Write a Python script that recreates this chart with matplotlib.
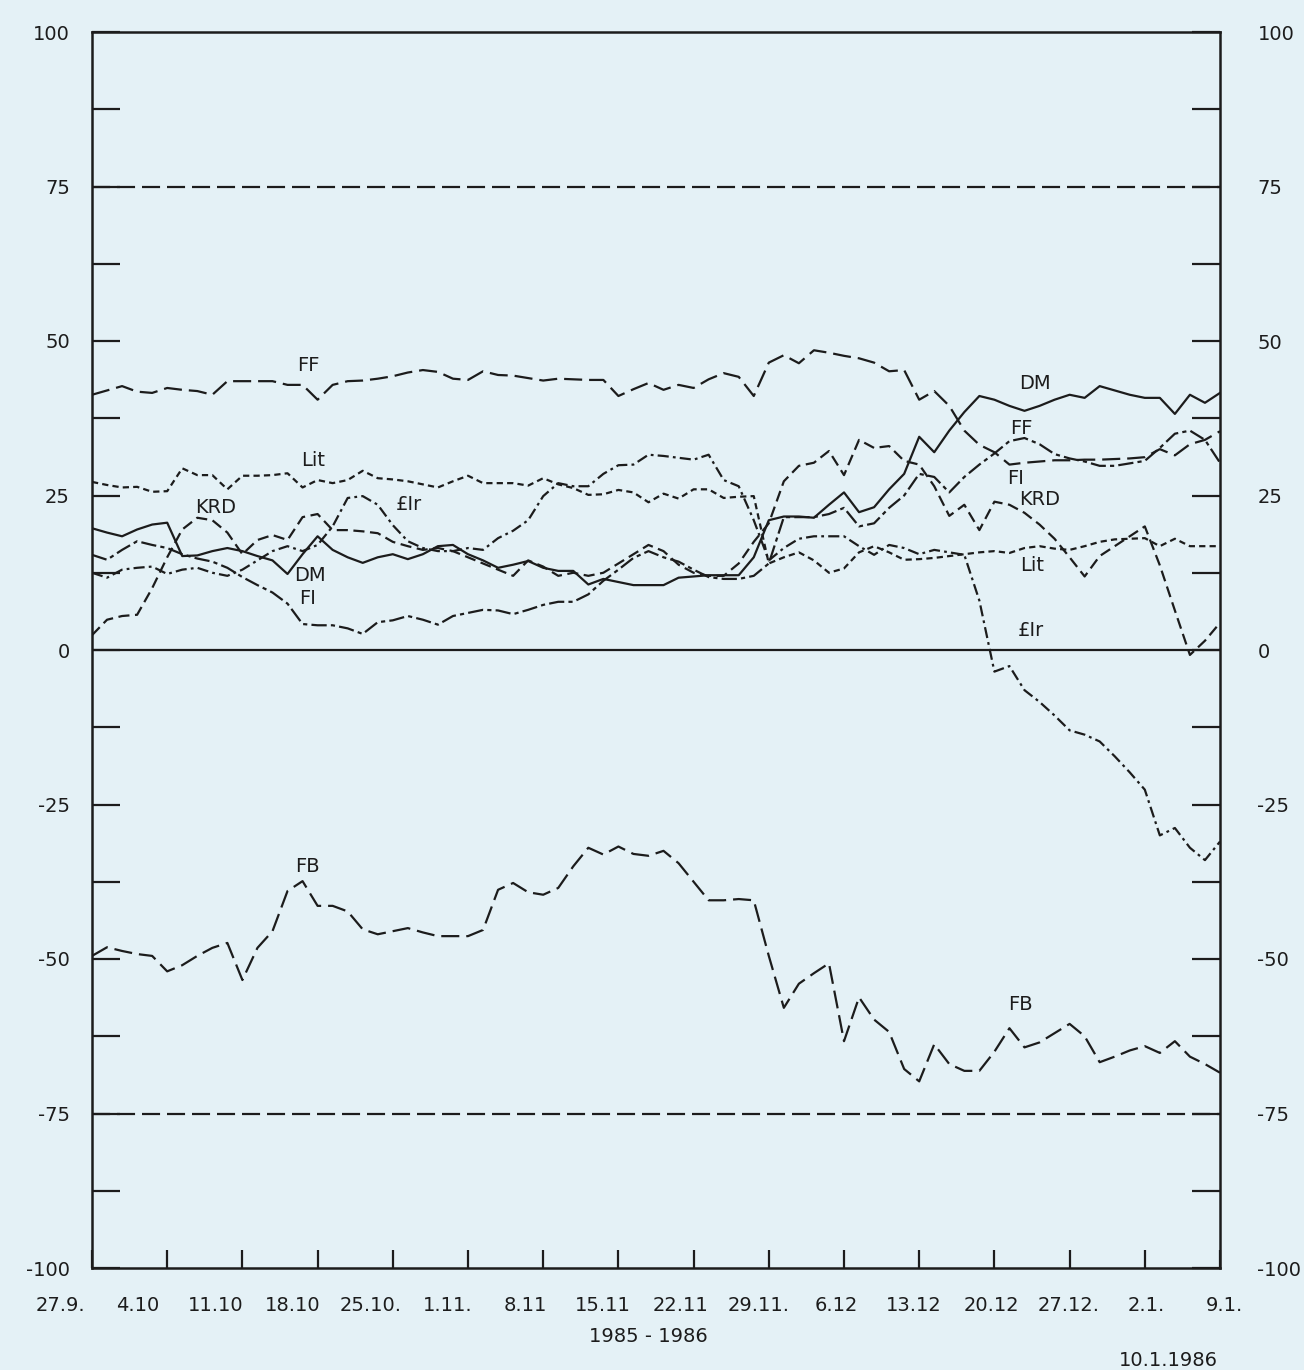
import numpy as np
import matplotlib
matplotlib.use('Agg')
import matplotlib.pyplot as plt

plt.rcParams['font.family'] = ['DejaVu Sans']
plt.rcParams['lines.scale_dashes'] = False

# business days 27.9.1985 .. 10.1.1986
days = np.arange(76)
week_ticks = np.arange(0, 76, 5)
date_labels = ['27.9.', '4.10', '11.10', '18.10', '25.10.', '1.11.', '8.11', '15.11',
               '22.11', '29.11.', '6.12', '13.12', '20.12', '27.12.', '2.1.', '9.1.']
y_ticks = np.arange(-100, 100.1, 12.5)

dm = [19.7, 19.0, 18.4, 19.5, 20.3, 20.6, 15.2, 15.3, 16.0, 16.5,
      16.0, 15.2, 14.5, 12.3, 15.5, 18.4, 16.2, 15.0, 14.1, 15.0,
      15.5, 14.7, 15.5, 16.8, 17.0, 15.5, 14.5, 13.3, 13.8, 14.4,
      13.3, 12.8, 12.8, 10.6, 11.5, 11.0, 10.5, 10.5, 10.5, 11.7,
      11.9, 12.1, 12.1, 12.1, 15.0, 21.0, 21.6, 21.6, 21.4, 23.5,
      25.5, 22.3, 23.1, 26.0, 28.5, 34.5, 32.0, 35.5, 38.5, 41.1,
      40.5, 39.5, 38.7, 39.5, 40.5, 41.3, 40.8, 42.7, 42.0, 41.3,
      40.8, 40.8, 38.2, 41.3, 40.0, 41.6]
ff = [41.3, 42.0, 42.7, 41.8, 41.6, 42.4, 42.1, 41.9, 41.3, 43.5,
      43.5, 43.5, 43.5, 42.9, 42.9, 40.5, 42.9, 43.5, 43.6, 43.9,
      44.3, 44.9, 45.3, 45.0, 43.9, 43.7, 45.1, 44.5, 44.4, 44.0,
      43.6, 43.9, 43.8, 43.7, 43.7, 41.1, 42.2, 43.2, 42.1, 42.9,
      42.4, 43.8, 44.8, 44.2, 41.1, 46.5, 47.7, 46.4, 48.5, 48.1,
      47.6, 47.2, 46.5, 45.1, 45.3, 40.5, 41.9, 39.5, 35.5, 33.2,
      32.0, 30.0, 30.3, 30.5, 30.7, 30.7, 30.8, 30.8, 30.9, 31.0,
      31.2, 32.5, 31.5, 33.3, 34.0, 35.4]
fi = [15.4, 14.6, 16.2, 17.6, 17.0, 16.5, 15.5, 14.8, 14.3, 13.3,
      11.8, 10.5, 9.3, 7.5, 4.2, 4.0, 4.0, 3.5, 2.6, 4.5,
      4.8, 5.5, 4.9, 4.1, 5.5, 6.0, 6.5, 6.4, 5.8, 6.5,
      7.3, 7.8, 7.8, 9.0, 11.2, 13.0, 14.9, 16.0, 15.0, 14.3,
      13.0, 11.8, 11.5, 11.5, 12.0, 14.0, 21.5, 21.5, 21.5, 22.0,
      23.0, 20.0, 20.5, 23.0, 25.0, 28.5, 28.0, 25.5, 28.0, 30.0,
      31.8, 33.8, 34.3, 33.3, 31.7, 31.0, 30.5, 29.8, 29.8, 30.2,
      30.6, 32.7, 35.0, 35.5, 34.0, 30.3]
krd = [2.4, 4.9, 5.5, 5.7, 10.0, 15.0, 19.5, 21.4, 21.0, 19.0,
       15.5, 17.8, 18.6, 17.8, 21.5, 22.0, 19.4, 19.4, 19.2, 18.9,
       17.5, 16.8, 16.2, 16.5, 16.0, 15.0, 14.0, 13.0, 12.0, 14.5,
       13.5, 12.0, 12.5, 12.0, 12.5, 14.0, 15.5, 17.0, 16.0, 13.8,
       12.5, 12.0, 12.0, 14.0, 17.5, 20.5, 27.3, 29.8, 30.3, 32.2,
       28.3, 34.0, 32.7, 33.0, 30.6, 30.0, 26.5, 21.7, 23.5, 19.4,
       24.0, 23.5, 22.2, 20.3, 18.0, 15.0, 11.9, 15.2, 16.8, 18.4,
       20.0, 13.7, 6.4, -0.8, 1.5, 4.4]
lit = [27.2, 26.7, 26.3, 26.4, 25.6, 25.7, 29.4, 28.3, 28.3, 26.0,
       28.2, 28.2, 28.3, 28.6, 26.3, 27.5, 27.0, 27.5, 29.0, 27.8,
       27.6, 27.3, 26.8, 26.3, 27.3, 28.2, 27.0, 27.0, 27.0, 26.6,
       27.8, 26.8, 26.2, 25.1, 25.2, 25.9, 25.5, 23.9, 25.3, 24.5,
       26.0, 26.0, 24.6, 24.8, 24.9, 14.0, 15.0, 15.8, 14.5, 12.5,
       13.2, 15.8, 16.8, 15.8, 14.6, 14.7, 14.9, 15.2, 15.5, 15.8,
       16.0, 15.7, 16.5, 16.8, 16.4, 16.2, 16.8, 17.5, 17.9, 18.0,
       18.1, 16.8, 18.0, 16.8, 16.8, 16.8]
lir = [12.5, 11.7, 13.0, 13.3, 13.5, 12.3, 13.0, 13.3, 12.5, 12.0,
       13.0, 14.5, 16.0, 16.8, 16.0, 17.0, 20.0, 24.6, 24.9, 23.5,
       20.2, 17.6, 16.5, 16.0, 16.0, 16.5, 16.2, 18.1, 19.3, 21.0,
       24.9, 27.0, 26.5, 26.5, 28.5, 29.9, 30.0, 31.6, 31.4, 31.1,
       30.8, 31.6, 27.5, 26.5, 21.0, 14.5, 16.5, 18.0, 18.4, 18.4,
       18.4, 16.8, 15.4, 17.0, 16.5, 15.5, 16.2, 15.8, 15.4, 8.0,
       -3.5, -2.6, -6.5, -8.4, -10.6, -13.0, -13.7, -14.8, -17.2, -19.8,
       -22.6, -30.0, -28.8, -32.0, -34.0, -31.0]
fb = [-49.5, -48.1, -48.7, -49.2, -49.5, -52.0, -51.0, -49.5, -48.2, -47.4,
      -53.4, -48.2, -45.5, -39.0, -37.4, -41.4, -41.4, -42.3, -45.2, -46.0,
      -45.5, -45.0, -45.7, -46.3, -46.3, -46.3, -45.3, -38.8, -37.7, -39.2,
      -39.6, -38.5, -35.0, -32.0, -33.1, -31.8, -33.0, -33.3, -32.5, -34.5,
      -37.5, -40.5, -40.5, -40.3, -40.5, -49.5, -57.9, -54.0, -52.3, -50.7,
      -63.3, -56.2, -59.8, -61.8, -67.8, -69.8, -63.8, -67.0, -68.1, -68.1,
      -65.0, -61.2, -64.3, -63.5, -62.0, -60.5, -62.5, -66.7, -65.8, -64.8,
      -64.1, -65.2, -63.3, -65.8, -67.0, -68.4]

bg = '#e4f1f6'
ink = '#1c1c1c'

fig = plt.figure(figsize=(13.04, 13.70), dpi=100, facecolor=bg)
ax = fig.add_axes([92 / 1304, 102 / 1370, 1128 / 1304, 1236 / 1370], facecolor=bg)

lw = 1.6
ax.plot(days, dm, color=ink, lw=lw)
ax.plot(days, ff, color=ink, lw=lw, linestyle=(0, (13, 5)))
ax.plot(days, fb, color=ink, lw=lw, linestyle=(0, (13, 5)))
ax.plot(days, krd, color=ink, lw=lw, linestyle=(0, (8, 4)))
ax.plot(days, lit, color=ink, lw=lw, linestyle=(0, (4.5, 3)))
ax.plot(days, fi, color=ink, lw=lw, linestyle=(0, (11, 3, 3, 3)))
ax.plot(days, lir, color=ink, lw=lw, linestyle=(0, (8, 3, 2, 3)))

# reference lines
ax.axhline(0, color=ink, lw=1.6)
for lvl in (75, -75):
    ax.axhline(lvl, color=ink, lw=1.6, linestyle=(0, (13, 5)))

ax.set_xlim(0, 75)
ax.set_ylim(-100, 100)
for s in ax.spines.values():
    s.set_linewidth(1.8)
    s.set_color(ink)

ylabels = ['%d' % v if v % 25 == 0 else '' for v in y_ticks]
ax.set_yticks(y_ticks)
ax.set_yticklabels(ylabels)
ax.tick_params(axis='y', direction='in', length=20, width=1.6, pad=16,
               labelsize=14, colors=ink)
ax2 = ax.twinx()
ax2.set_ylim(-100, 100)
ax2.set_yticks(y_ticks)
ax2.set_yticklabels(ylabels)
ax2.tick_params(axis='y', direction='in', length=20, width=1.6, pad=27,
                labelsize=14, colors=ink)
for s in ax2.spines.values():
    s.set_visible(False)

ax.set_xticks(week_ticks)
ax.set_xticklabels([])
ax.tick_params(axis='x', direction='in', length=13, width=1.6, colors=ink)

# date labels sit slightly left of the weekly ticks, like the plotter output
tr = ax.get_xaxis_transform()
for i, lab in enumerate(date_labels):
    xpos = (60 + 77.6 * i - 92) / 15.04
    ax.text(xpos, -0.023, lab, transform=tr, ha='center', va='top',
            fontsize=14, color=ink)
fig.text(648 / 1304, 1 - 1336 / 1370, '1985 - 1986', ha='center', va='center',
         fontsize=14, color=ink)
fig.text(1218 / 1304, 1 - 1360 / 1370, '10.1.1986', ha='right', va='center',
         fontsize=14, color=ink)

# series names written next to the curves
names = [('FF', 14.4, 46.0), ('Lit', 14.7, 30.7), ('KRD', 8.2, 23.0),
         ('£Ir', 21.1, 23.6), ('DM', 14.5, 12.0), ('FI', 14.3, 8.4),
         ('FB', 14.3, -35.0), ('DM', 62.7, 43.2), ('FF', 61.8, 35.9),
         ('FI', 61.4, 27.8), ('KRD', 63.0, 24.3), ('Lit', 62.5, 13.6),
         ('£Ir', 62.4, 3.2), ('FB', 61.7, -57.4)]
for txt, xx, yy in names:
    ax.text(xx, yy, txt, ha='center', va='center', fontsize=14, color=ink)

fig.savefig('out.png', dpi=100, facecolor=bg)
